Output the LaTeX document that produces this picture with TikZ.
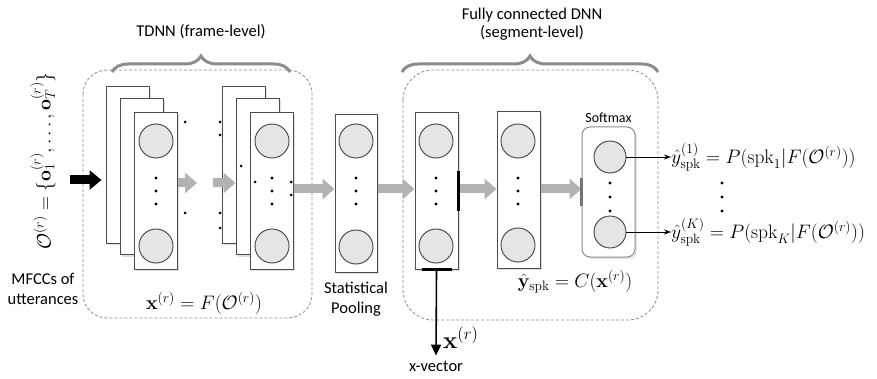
\RequirePackage{fix-cm}
\documentclass[tikz,border=0pt]{standalone}
\usepackage[no-math]{fontspec}
\setmainfont{Carlito}
\usetikzlibrary{arrows.meta,positioning,decorations.pathreplacing,shadows}

\begin{document}
\begin{tikzpicture}[x=1pt, y=-1pt,
    layer/.style={rectangle, draw=black!70, fill=white, line width=1pt, minimum width=43pt, minimum height=156pt, inner sep=0pt, drop shadow={opacity=0.25, shadow xshift=2pt, shadow yshift=-2pt}},
    unit/.style={circle, draw=black!75, fill=black!10, line width=0.9pt, minimum size=34pt, inner sep=0pt},
    softbox/.style={rectangle, rounded corners=8pt, draw=black!45, fill=white, line width=1pt, minimum width=53pt, minimum height=130pt, inner sep=0pt, drop shadow={opacity=0.2, shadow xshift=2pt, shadow yshift=-2pt}},
    flowarrow/.style={line width=9pt, draw=black!30, -{Triangle[length=12pt, width=20pt]}},
    inarrow/.style={line width=9pt, draw=black, -{Triangle[length=12pt, width=19pt]}},
    outarrow/.style={line width=0.8pt, -{Stealth[length=7pt, width=5pt]}},
    bar/.style={line width=2.5pt, draw=black},
    brace/.style={decorate, decoration={brace, amplitude=16pt}, line width=3pt, draw=black!45},
    dashbox/.style={draw=black!45, line width=0.8pt, dash pattern=on 3pt off 2pt},
    lbl/.style={font=\fontsize{16.5}{20}\selectfont, inner sep=0pt},
    mathlbl/.style={font=\fontsize{19.5}{21}\selectfont, inner sep=0pt}
]
\useasboundingbox (0,0) rectangle (877,379);

% groups
\draw[dashbox, rounded corners=24pt] (83,70) rectangle (312,318);
\draw[dashbox, rounded corners=30pt] (403,70) rectangle (658,320);
\draw[brace] (112,72) -- (290,72);
\draw[brace] (402,72) -- (658,72);
\node[lbl] (tdnn) at (201,32) {TDNN (frame-level)};
\node[lbl, align=center, font=\fontsize{16.5}{18}\selectfont] (fcdnn) at (532,24) {Fully connected DNN\\(segment-level)};

% input
\node[mathlbl, rotate=90] (obs) at (43,161) {$\mathcal{O}^{(r)} = \{\mathbf{o}_1^{(r)}, \dots, \mathbf{o}_T^{(r)}\}$};
\node[lbl, align=center] (mfcc) at (43,289) {MFCCs of\\utterances};

% TDNN layers
\node[layer] (a1) at (127.5,165) {};
\node[layer] (a2) at (141.5,176.5) {};
\node[layer] (a3) at (155.5,191) {};
\node[unit] (a3top) at (156,141) {};
\node[unit] (a3bot) at (156,246) {};

\node[layer] (b1) at (243.5,165) {};
\node[layer] (b2) at (257.5,176.5) {};
\node[layer] (b3) at (271.5,191) {};
\node[unit] (b3top) at (272,141) {};
\node[unit] (b3bot) at (272,246) {};

\node[mathlbl] (tdnnfn) at (204,303) {$\mathbf{x}^{(r)} = F(\mathcal{O}^{(r)})$};

% pooling and segment layers
\node[layer, minimum width=42pt, minimum height=157pt] (pool) at (356,193.5) {};
\node[unit] (pooltop) at (356,141) {};
\node[unit] (poolbot) at (356,247) {};
\node[lbl, align=center, below=9pt of pool] (poollbl) {Statistical\\Pooling};

\node[layer] (fc1) at (436.5,191) {};
\node[unit] (fc1top) at (436,141) {};
\node[unit] (fc1bot) at (436,246) {};

\node[layer] (fc2) at (518.5,190) {};
\node[unit] (fc2top) at (518,141) {};
\node[unit] (fc2bot) at (518,245) {};

\node[softbox] (soft) at (608.5,192) {};
\node[unit, minimum size=32pt] (s1) at (610,157) {};
\node[unit, minimum size=32pt] (sK) at (610,232) {};
\node[font=\fontsize{14}{15}\selectfont, inner sep=0pt, above=4pt of soft] (softlbl) {Softmax};

\node[mathlbl] (fcfn) at (575,282) {$\hat{\mathbf{y}}_{\mathrm{spk}} = C(\mathbf{x}^{(r)})$};

% dots
\foreach \x in {156,272,356,436,518} {
  \foreach \y in {178,191,204} \fill (\x,\y) circle (1.6pt);
}
\foreach \y in {183,197,211} \fill (610,\y) circle (1.6pt);
\foreach \p in {(185,122),(185,213),(220,122),(220,135),(220,213),(220,228),(241,166),(255,182),(291,182),(291,195)}
  \fill \p circle (1.5pt);

% arrows
\coordinate (in) at (70,180);
\draw[inarrow, shorten >=4pt] (in) -- (in -| a1.west);

\coordinate (ga) at (197,183);
\coordinate (gb) at (213,183);
\draw[flowarrow] (a3.east |- ga) -- (ga);
\draw[flowarrow] (gb) -- (b2.west |- gb);

\coordinate (mid) at (0,189);
\draw[flowarrow] (b3.east |- mid) -- (pool.west |- mid);
\draw[flowarrow] (pool.east |- mid) -- (fc1.west |- mid);
\draw[flowarrow] (fc1.east |- mid) -- (fc2.west |- mid);
\draw[flowarrow] (fc2.east |- mid) -- (soft.west |- mid);

\draw[bar] ([yshift=20pt]fc1.east) -- ([yshift=-20pt]fc1.east);
\draw[bar] ([xshift=-15pt]fc1.south) -- ([xshift=15pt]fc1.south);
\draw[bar, draw=black!55] ([yshift=14pt]soft.west) -- ([yshift=-14pt]soft.west);

% x-vector
\node[lbl] (xvec) at (436,366) {x-vector};
\draw[line width=1.6pt, -{Triangle[length=11pt, width=10pt]}, shorten >=5pt] (fc1.south) -- (xvec.north);
\node[font=\fontsize{24}{26}\selectfont, inner sep=0pt, anchor=west] (xr) at (443,338) {$\mathbf{x}^{(r)}$};

% outputs
\node[mathlbl, anchor=west] (y1) at (671,157) {$\hat{y}^{(1)}_{\mathrm{spk}} = P(\mathrm{spk}_1|F(\mathcal{O}^{(r)}))$};
\node[mathlbl, anchor=west] (yK) at (671,232) {$\hat{y}^{(K)}_{\mathrm{spk}} = P(\mathrm{spk}_K|F(\mathcal{O}^{(r)}))$};
\draw[outarrow] (s1.east) -- (y1.west);
\draw[outarrow] (sK.east) -- (yK.west);
\foreach \y in {183,197,211} \fill (722,\y) circle (1.6pt);

\end{tikzpicture}
\end{document}
